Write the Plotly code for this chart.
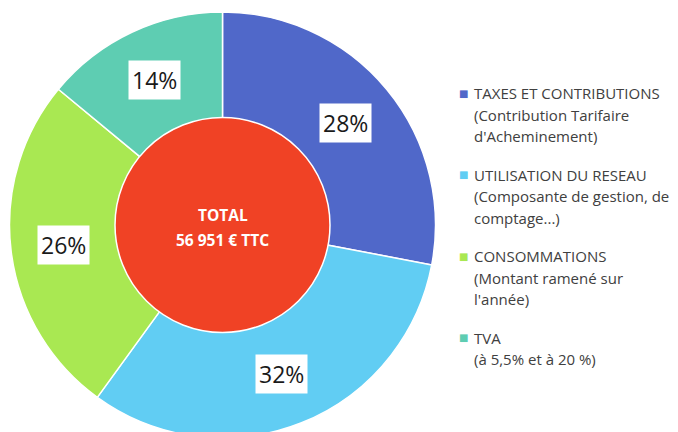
import math
import plotly.graph_objects as go

# --- Data ---
CATEGORIES = ["TAXES ET CONTRIBUTIONS", "UTILISATION DU RESEAU", "CONSOMMATIONS", "TVA"]
DETAILS = [
    ["(Contribution Tarifaire", "d'Acheminement)"],
    ["(Composante de gestion, de", "comptage...)"],
    ["(Montant ramené sur", "l'année)"],
    ["(à 5,5% et à 20 %)"],
]
SHARES = [28, 32, 26, 14]
COLORS = ["#5068C9", "#61CDF3", "#A9E852", "#5ECDB2"]
CENTER_LINES = ["TOTAL", "56 951 € TTC"]
CENTER_COLOR = "#F04225"

W, H = 678, 432
FONT = "Open Sans, sans-serif"
OFF = 8  # the page body adds an 8px margin around the figure

# pie geometry in figure pixels (from top-left)
CX, CY = 222.5 - OFF, 225 - OFF
R_OUT = 213
R_IN = 107.5


def dom_x(r):
    return [max(0, (CX - r) / W), min(1, (CX + r) / W)]


def dom_y(r):
    cyb = H - CY
    return [max(0, (cyb - r) / H), min(1, (cyb + r) / H)]


def paper(px, py):
    # figure pixel (from top-left) -> paper coords
    return px / W, 1 - py / H


fig = go.Figure()

fig.add_trace(go.Pie(
    labels=CATEGORIES,
    values=SHARES,
    sort=False,
    direction="clockwise",
    rotation=0,
    hole=0.5,
    marker=dict(colors=COLORS, line=dict(color="white", width=1.5)),
    textinfo="none",
    hoverinfo="label+percent",
    showlegend=False,
    domain=dict(x=dom_x(R_OUT), y=dom_y(R_OUT)),
))

# red centre disc
fig.add_trace(go.Pie(
    labels=["TOTAL"],
    values=[1],
    marker=dict(colors=[CENTER_COLOR], line=dict(color="white", width=1.5)),
    textinfo="none",
    hoverinfo="skip",
    showlegend=False,
    domain=dict(x=dom_x(R_IN), y=dom_y(R_IN)),
))

annotations = []

# percentage labels in white boxes, placed mid-ring
r_lab = (R_OUT + R_IN) / 2
total = sum(SHARES)
cum = 0
for v in SHARES:
    mid = (cum + v / 2) / total * 2 * math.pi
    cum += v
    x, y = paper(CX + r_lab * math.sin(mid), CY - r_lab * math.cos(mid))
    annotations.append(dict(
        x=x, y=y, xref="paper", yref="paper",
        xanchor="center", yanchor="middle",
        text=f"{v}%", showarrow=False,
        font=dict(family=FONT, size=23, color="#1a1a1a"),
        bgcolor="white", borderpad=3,
    ))

# centre text
for k, line in enumerate(CENTER_LINES):
    x, y = paper(CX, 215 - OFF + k * 25)
    annotations.append(dict(
        x=x, y=y, xref="paper", yref="paper",
        xanchor="center", yanchor="middle",
        text=f"<b>{line}</b>", showarrow=False,
        font=dict(family=FONT, size=15.5, color="white"),
    ))

# legend built from annotations
LEG_X = 472 - OFF
LEG_TOP = 93 - OFF
LINE_H = 21.5
GROUP_H = 81.5
for i, (cat, det) in enumerate(zip(CATEGORIES, DETAILS)):
    y0 = LEG_TOP + i * GROUP_H
    x, y = paper(LEG_X - 2, y0)
    annotations.append(dict(
        x=x, y=y, xref="paper", yref="paper",
        text="■", showarrow=False, xanchor="right", yanchor="middle",
        font=dict(family="DejaVu Sans", size=10, color=COLORS[i]),
    ))
    for j, line in enumerate([cat] + det):
        x, y = paper(LEG_X, y0 + j * LINE_H)
        annotations.append(dict(
            x=x, y=y, xref="paper", yref="paper",
            text=line, showarrow=False, xanchor="left", yanchor="middle",
            font=dict(family=FONT, size=15, color="#404040"),
        ))

fig.update_layout(
    width=W, height=H,
    margin=dict(l=0, r=0, t=0, b=0),
    paper_bgcolor="white",
    plot_bgcolor="white",
    annotations=annotations,
)

fig.write_html("out.html")
